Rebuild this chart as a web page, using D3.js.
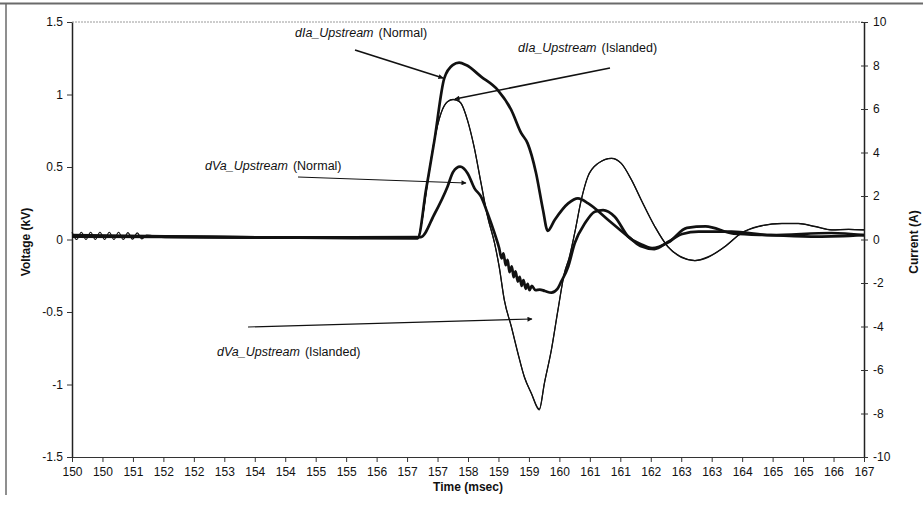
<!DOCTYPE html>
<html>
<head>
<meta charset="utf-8">
<script src="https://cdn.jsdelivr.net/npm/d3@7/dist/d3.min.js"></script>
<style>
  html, body { margin: 0; padding: 0; background: #fff; }
  svg { display: block; font-family: "Liberation Sans", Arial, sans-serif; }
</style>
</head>
<body>
<svg id="chart" width="923" height="508"></svg>
<script>
// Time axis tick labels (msec), as printed under each tick
const timeTickLabels = ["150","150","151","152","152","153","154","154","155","155","156","157","157","158",
  "159","159","160","161","161","162","163","163","164","165","165","166","167"];
const voltTicks = [-1.5, -1, -0.5, 0, 0.5, 1, 1.5];
const currTicks = [-10, -8, -6, -4, -2, 0, 2, 4, 6, 8, 10];

// dIa_Upstream (Normal) — current, A
const iaNormalT = [150, 152, 154, 156, 157.42, 157.6, 157.78, 157.99, 158.17, 158.31, 158.46, 158.78, 159.14, 159.43,
  159.64, 159.78, 159.96, 160.11, 160.21, 160.36, 160.65, 160.86, 161.08, 161.51, 161.94, 162.2, 162.5, 162.8,
  163.1, 163.45, 164.16, 165, 166.3, 167];
const iaNormal = [0.2, 0.15, 0.1, 0.06, 0.05, 2.3, 4.57, 7.41, 8.02, 8.13, 8.02, 7.49, 6.87, 5.95,
  4.9, 4.42, 3.06, 1.36, 0.4, 0.9, 1.66, 1.89, 1.66, 0.9, 0.13, -0.3, -0.44, -0.1,
  0.25, 0.36, 0.36, 0.2, 0.3, 0.2];

// dVa_Upstream (Normal) — voltage, kV
const vaNormalT = [150, 152, 154, 156, 157.49, 157.77, 158.06, 158.18, 158.33, 158.49, 158.64, 158.78, 158.92, 159.07,
  159.17, 159.22, 159.26, 159.31, 159.35, 159.39, 159.44, 159.48, 159.52, 159.57, 159.61, 159.65, 159.69, 159.74,
  159.78, 159.82, 159.87, 159.95, 160.04, 160.15, 160.29, 160.42, 160.5, 160.65, 160.79, 161.01, 161.22, 161.4,
  161.65, 161.94, 162.2, 162.45, 162.8, 163.2, 163.6, 164.2, 165, 166, 167];
const vaNormal = [0.02, 0.02, 0.015, 0.015, 0.017, 0.169, 0.364, 0.466, 0.502, 0.457, 0.353, 0.295, 0.181, 0.043,
  -0.061, -0.13, -0.095, -0.177, -0.14, -0.225, -0.185, -0.26, -0.22, -0.29, -0.257, -0.32, -0.28, -0.34,
  -0.305, -0.35, -0.32, -0.35, -0.345, -0.355, -0.367, -0.341, -0.291, -0.188, -0.026, 0.112, 0.192, 0.203,
  0.157, 0.019, -0.03, -0.06, -0.02, 0.08, 0.09, 0.04, 0.03, 0.02, 0.03];

// dIa_Upstream (Islanded) — current, A
const iaIslandT = [150, 152, 154, 156, 157.42, 157.49, 157.63, 157.78, 157.92, 158.06, 158.18, 158.26, 158.35, 158.49,
  158.63, 158.78, 158.92, 159.07, 159.17, 159.28, 159.43, 159.57, 159.71, 159.86, 160.03, 160.14, 160.29, 160.43,
  160.57, 160.67, 160.79, 160.93, 161.07, 161.29, 161.58, 161.79, 162.01, 162.22, 162.51, 162.79, 163.08, 163.37,
  163.65, 164.01, 164.37, 164.73, 165.24, 165.59, 165.95, 166.31, 166.67, 167];
const iaIsland = [0.1, 0.08, 0.06, 0.05, 0.07, 0.59, 2.58, 4.57, 5.8, 6.34, 6.44, 6.41, 6.26, 5.49,
  4.27, 2.58, 1.05, -0.17, -1.25, -2.78, -4.01, -5.23, -6.31, -7.08, -7.84, -6.61, -5.08, -3.24,
  -1.55, -0.85, 0.29, 1.82, 2.89, 3.5, 3.73, 3.5, 2.74, 1.82, 0.59, -0.33, -0.82, -0.97,
  -0.82, -0.33, 0.29, 0.59, 0.74, 0.74, 0.59, 0.44, 0.47, 0.44];

// dVa_Upstream (Islanded) — voltage, kV
const vaIslandT = [150, 150.1, 150.2, 150.3, 150.4, 150.5, 150.6, 150.7, 150.8, 150.9, 151, 151.1, 151.2, 151.3,
  151.4, 151.5, 151.6, 152, 154, 156, 157.42, 157.49, 157.63, 157.78, 157.92, 158.06, 158.18, 158.26, 158.35, 158.49,
  158.63, 158.78, 158.92, 159.07, 159.17, 159.28, 159.43, 159.57, 159.71, 159.86, 160.03, 160.14, 160.29, 160.43,
  160.57, 160.67, 160.79, 160.93, 161.07, 161.29, 161.58, 161.79, 162.01, 162.22, 162.51, 162.79, 163.08, 163.37,
  163.65, 164.01, 164.37, 164.73, 165.24, 165.59, 165.95, 166.31, 166.67, 167];
const vaIsland = [0.05, 0.0, 0.05, 0.0, 0.05, 0.0, 0.05, 0.0, 0.05, 0.0, 0.05, 0.0, 0.048, 0.002,
  0.046, 0.004, 0.03, 0.012, 0.01, 0.008, 0.01, 0.09, 0.39, 0.69, 0.87, 0.95, 0.965, 0.96, 0.94, 0.82,
  0.64, 0.39, 0.16, -0.025, -0.19, -0.42, -0.6, -0.78, -0.95, -1.06, -1.17, -0.99, -0.76, -0.49,
  -0.23, -0.13, 0.045, 0.27, 0.43, 0.525, 0.56, 0.525, 0.41, 0.27, 0.09, -0.05, -0.12, -0.145,
  -0.12, -0.05, 0.045, 0.09, 0.11, 0.11, 0.09, 0.066, 0.07, 0.066];

const W = 923, H = 508;
const plot = { left: 72, right: 864, top: 22, bottom: 457 };
const ink = "#111";

const svg = d3.select("#chart");

const x = d3.scaleLinear().domain([150, 167]).range([plot.left, plot.right]);
const yV = d3.scaleLinear().domain([-1.5, 1.5]).range([plot.bottom, plot.top]);
const yI = d3.scaleLinear().domain([-10, 10]).range([plot.bottom, plot.top]);

// outer frame edges
svg.append("line").attr("x1", 0).attr("x2", W).attr("y1", 3.5).attr("y2", 3.5)
  .attr("stroke", "#6a6a6a").attr("stroke-width", 2);
svg.append("line").attr("x1", 6).attr("x2", 6).attr("y1", 3).attr("y2", 495)
  .attr("stroke", "#6a6a6a").attr("stroke-width", 1.5);

// top edge of plot area (dotted)
svg.append("line").attr("x1", plot.left).attr("x2", plot.right).attr("y1", plot.top).attr("y2", plot.top)
  .attr("stroke", "#9a9a9a").attr("stroke-width", 1).attr("stroke-dasharray", "2,1");

// x axis
const xTickVals = d3.range(timeTickLabels.length).map(i => 150 + i * 17 / (timeTickLabels.length - 1));
const xAxis = d3.axisBottom(x).tickValues(xTickVals)
  .tickFormat((d, i) => timeTickLabels[i]).tickSize(5).tickSizeOuter(0).tickPadding(5);
const gx = svg.append("g").attr("transform", `translate(0,${plot.bottom})`).call(xAxis);
gx.select(".domain").attr("stroke", "#333").attr("stroke-width", 1.2);
gx.selectAll(".tick line").attr("stroke", "#333");
gx.selectAll("text").attr("font-size", 12).attr("fill", ink);

// left voltage axis
const yAxisL = d3.axisLeft(yV).tickValues(voltTicks).tickSize(5).tickSizeOuter(0).tickPadding(4)
  .tickFormat(d => String(d));
const gl = svg.append("g").attr("transform", `translate(${plot.left},0)`).call(yAxisL);
gl.select(".domain").attr("stroke", "#222").attr("stroke-width", 1.5);
gl.selectAll(".tick line").attr("stroke", "#333");
gl.selectAll("text").attr("font-size", 12).attr("fill", ink);

// right current axis (ticks cross the line)
const yAxisR = d3.axisRight(yI).tickValues(currTicks).tickFormat(d => String(d)).tickSize(4).tickSizeOuter(0).tickPadding(5);
const gr = svg.append("g").attr("transform", `translate(${plot.right},0)`).call(yAxisR);
gr.select(".domain").attr("stroke", "#222").attr("stroke-width", 1.5);
gr.selectAll(".tick line").attr("stroke", "#333").attr("x1", -3);
gr.selectAll("text").attr("font-size", 12).attr("fill", ink);

// axis titles
svg.append("text").attr("x", 468).attr("y", 491).attr("text-anchor", "middle")
  .attr("font-size", 12).attr("font-weight", "bold").attr("fill", ink).text("Time (msec)");
svg.append("text").attr("transform", "translate(30,242) rotate(-90)").attr("text-anchor", "middle")
  .attr("font-size", 12).attr("font-weight", "bold").attr("fill", ink).text("Voltage (kV)");
svg.append("text").attr("transform", "translate(918,242) rotate(-90)").attr("text-anchor", "middle")
  .attr("font-size", 12).attr("font-weight", "bold").attr("fill", ink).text("Current (A)");

// series
const lineV = d3.line().x(d => x(d[0])).y(d => yV(d[1])).curve(d3.curveMonotoneX);
const lineI = d3.line().x(d => x(d[0])).y(d => yI(d[1])).curve(d3.curveMonotoneX);
const zip = (t, v) => t.map((d, i) => [d, v[i]]);

const series = [
  { pts: zip(vaIslandT, vaIsland), gen: lineV, w: 1.2 },
  { pts: zip(iaIslandT, iaIsland), gen: lineI, w: 1.2 },
  { pts: zip(vaNormalT, vaNormal), gen: lineV, w: 2.7 },
  { pts: zip(iaNormalT, iaNormal), gen: lineI, w: 2.7 }
];
svg.append("g").selectAll("path").data(series).join("path")
  .attr("d", s => s.gen(s.pts)).attr("fill", "none")
  .attr("stroke", ink).attr("stroke-width", s => s.w).attr("stroke-linejoin", "round");

// annotations
const defs = svg.append("defs");
defs.append("marker").attr("id", "arr").attr("viewBox", "0 0 10 10").attr("refX", 9).attr("refY", 5)
  .attr("markerWidth", 6).attr("markerHeight", 5).attr("orient", "auto").attr("markerUnits", "userSpaceOnUse")
  .append("path").attr("d", "M0,0L10,5L0,10z").attr("fill", ink);

const notes = [
  { name: "dIa_Upstream", mode: "(Normal)", tx: 295, ty: 37, x1: 355, y1: 50, x2: 443, y2: 78, w: 1.8 },
  { name: "dIa_Upstream", mode: "(Islanded)", tx: 518, ty: 52, x1: 610, y1: 68, x2: 455, y2: 99, w: 1.6 },
  { name: "dVa_Upstream", mode: "(Normal)", tx: 205, ty: 170, x1: 298, y1: 177, x2: 466, y2: 183, w: 1.2 },
  { name: "dVa_Upstream", mode: "(Islanded)", tx: 217, ty: 356, x1: 248, y1: 327, x2: 532, y2: 319, w: 1.2 }
];
const gn = svg.append("g");
notes.forEach(n => {
  const t = gn.append("text").attr("x", n.tx).attr("y", n.ty).attr("font-size", 12.5).attr("fill", ink);
  t.append("tspan").attr("font-style", "italic").text(n.name);
  t.append("tspan").attr("dx", 5).text(n.mode);
  gn.append("line").attr("x1", n.x1).attr("y1", n.y1).attr("x2", n.x2).attr("y2", n.y2)
    .attr("stroke", ink).attr("stroke-width", n.w).attr("marker-end", "url(#arr)");
});
</script>
</body>
</html>
